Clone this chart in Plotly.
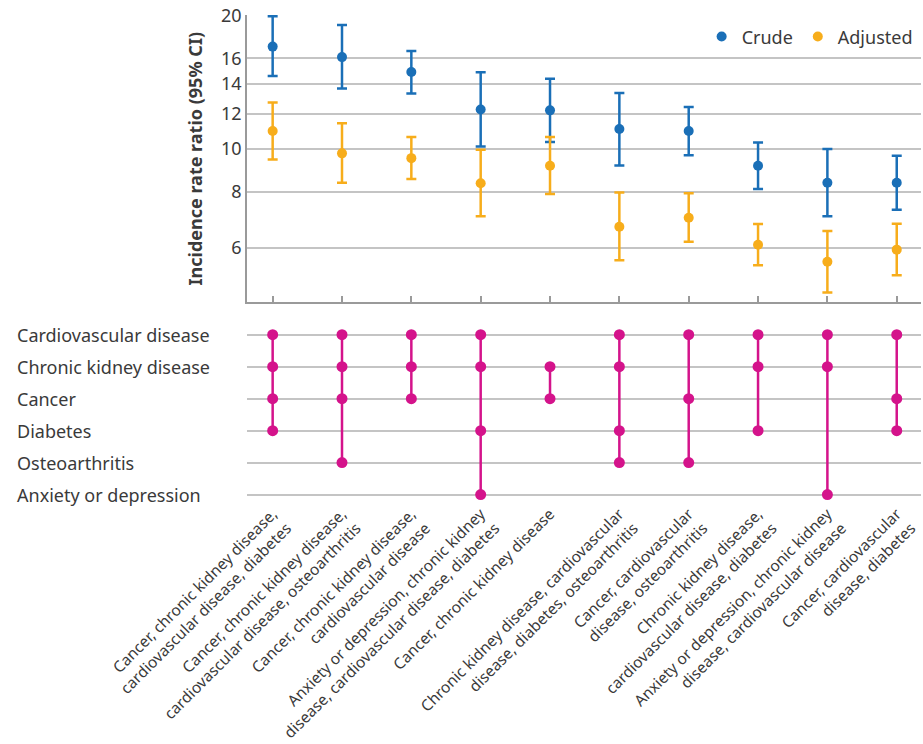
import plotly.graph_objects as go

categories = [
    "Cancer, chronic kidney disease,<br>cardiovascular disease, diabetes",
    "Cancer, chronic kidney disease,<br>cardiovascular disease, osteoarthritis",
    "Cancer, chronic kidney disease,<br>cardiovascular disease",
    "Anxiety or depression, chronic kidney<br>disease, cardiovascular disease, diabetes",
    "Cancer, chronic kidney disease",
    "Chronic kidney disease, cardiovascular<br>disease, diabetes, osteoarthritis",
    "Cancer, cardiovascular<br>disease, osteoarthritis",
    "Chronic kidney disease,<br>cardiovascular disease, diabetes",
    "Anxiety or depression, chronic kidney<br>disease, cardiovascular disease",
    "Cancer, cardiovascular<br>disease, diabetes",
]

crude = [17.0, 16.1, 14.9, 12.27, 12.22, 11.09, 10.98, 9.17, 8.40, 8.40]
crude_lo = [14.6, 13.68, 13.33, 10.14, 10.37, 9.19, 9.68, 8.13, 7.06, 7.30]
crude_hi = [19.9, 19.0, 16.62, 14.89, 14.4, 13.37, 12.44, 10.35, 10.0, 9.66]

adjusted = [10.98, 9.78, 9.54, 8.38, 9.17, 6.69, 7.01, 6.09, 5.58, 5.94]
adjusted_lo = [9.48, 8.40, 8.56, 7.06, 7.92, 5.62, 6.19, 5.48, 4.76, 5.20]
adjusted_hi = [12.72, 11.43, 10.64, 9.97, 10.64, 7.99, 7.95, 6.78, 6.54, 6.79]

conditions = [
    "Anxiety or depression",
    "Osteoarthritis",
    "Diabetes",
    "Cancer",
    "Chronic kidney disease",
    "Cardiovascular disease",
]

membership = [
    ["Cardiovascular disease", "Chronic kidney disease", "Cancer", "Diabetes"],
    ["Cardiovascular disease", "Chronic kidney disease", "Cancer", "Osteoarthritis"],
    ["Cardiovascular disease", "Chronic kidney disease", "Cancer"],
    ["Cardiovascular disease", "Chronic kidney disease", "Diabetes", "Anxiety or depression"],
    ["Chronic kidney disease", "Cancer"],
    ["Cardiovascular disease", "Chronic kidney disease", "Diabetes", "Osteoarthritis"],
    ["Cardiovascular disease", "Cancer", "Osteoarthritis"],
    ["Cardiovascular disease", "Chronic kidney disease", "Diabetes"],
    ["Cardiovascular disease", "Chronic kidney disease", "Anxiety or depression"],
    ["Cardiovascular disease", "Cancer", "Diabetes"],
]

y_ticks = [6, 8, 10, 12, 14, 16, 20]

BLUE = "#1a6fb7"
ORANGE = "#f7ad1b"
PINK = "#d4138b"
GRID = "#c4c4c4"
AXIS = "#9a9a9a"
TEXT = "#3a3a3a"
FONT = "Noto Sans"

xs = list(range(len(categories)))

fig = go.Figure()

fig.add_trace(go.Scatter(
    x=xs, y=crude, mode="markers", name="Crude",
    marker=dict(color=BLUE, size=10),
    error_y=dict(type="data", symmetric=False,
                 array=[h - v for h, v in zip(crude_hi, crude)],
                 arrayminus=[v - l for v, l in zip(crude, crude_lo)],
                 color=BLUE, thickness=2.5, width=5),
    xaxis="x", yaxis="y",
))
fig.add_trace(go.Scatter(
    x=xs, y=adjusted, mode="markers", name="Adjusted",
    marker=dict(color=ORANGE, size=10),
    error_y=dict(type="data", symmetric=False,
                 array=[h - v for h, v in zip(adjusted_hi, adjusted)],
                 arrayminus=[v - l for v, l in zip(adjusted, adjusted_lo)],
                 color=ORANGE, thickness=2.5, width=5),
    xaxis="x", yaxis="y",
))

# matrix panel
row_index = {c: i for i, c in enumerate(conditions)}
lx, ly, px, py = [], [], [], []
for i, mem in enumerate(membership):
    rows = [row_index[m] for m in mem]
    lx += [i, i, None]
    ly += [min(rows), max(rows), None]
    for r in rows:
        px.append(i)
        py.append(r)

fig.add_trace(go.Scatter(
    x=lx, y=ly, mode="lines", line=dict(color=PINK, width=2.5),
    showlegend=False, hoverinfo="skip", xaxis="x2", yaxis="y2",
))
fig.add_trace(go.Scatter(
    x=px, y=py, mode="markers", marker=dict(color=PINK, size=11),
    showlegend=False, xaxis="x2", yaxis="y2", cliponaxis=False,
))

for c in conditions:
    fig.add_annotation(
        x=(15 - 247) / 674, xref="paper", xanchor="left",
        y=row_index[c], yref="y2", yanchor="middle",
        text=c, showarrow=False,
        font=dict(family=FONT, size=18, color=TEXT),
    )

xrange = [-0.37, 9.35]

fig.update_layout(
    width=923, height=744,
    margin=dict(l=247, r=2, t=15, b=242.6),
    paper_bgcolor="white", plot_bgcolor="white",
    font=dict(family=FONT, color=TEXT),
    showlegend=True,
    legend=dict(orientation="h", x=0.995, xanchor="right", y=0.955, yanchor="middle",
                font=dict(family=FONT, size=18, color=TEXT),
                bgcolor="rgba(0,0,0,0)", itemwidth=30, tracegroupgap=0),
    xaxis=dict(domain=[0, 1], range=xrange, anchor="y",
               tickvals=xs, showticklabels=False, ticks="inside", ticklen=7,
               tickcolor=AXIS, tickwidth=1.5,
               showline=True, linecolor=AXIS, linewidth=1.5, showgrid=False,
               zeroline=False),
    yaxis=dict(domain=[0.4085, 1.0], type="log",
               range=[0.655, 1.3015], anchor="x",
               tickvals=y_ticks, ticktext=[str(t) for t in y_ticks],
               tickfont=dict(family=FONT, size=18, color=TEXT),
               showgrid=True, gridcolor=GRID, gridwidth=1.5,
               showline=True, linecolor=AXIS, linewidth=1.5,
               ticks="", zeroline=False,
               title=dict(text="<b>Incidence rate ratio (95% CI)</b>",
                          font=dict(family=FONT, size=18, color=TEXT),
                          standoff=14)),
    xaxis2=dict(domain=[0, 1], range=xrange, anchor="y2",
                tickvals=xs, ticktext=categories, tickangle=-45,
                tickfont=dict(family=FONT, size=15.5, color=TEXT),
                ticks="", showline=False, showgrid=False, zeroline=False),
    yaxis2=dict(domain=[0, 0.3553], range=[-0.2, 5.2], anchor="x2",
                tickvals=list(range(len(conditions))), showticklabels=False,
                showgrid=True, gridcolor=GRID, gridwidth=1.5,
                showline=False, zeroline=False, ticks=""),
)

fig.write_html(
    "out.html",
    config={"displayModeBar": False},
    post_script="document.body.style.margin='0';document.body.style.overflow='hidden';",
)
